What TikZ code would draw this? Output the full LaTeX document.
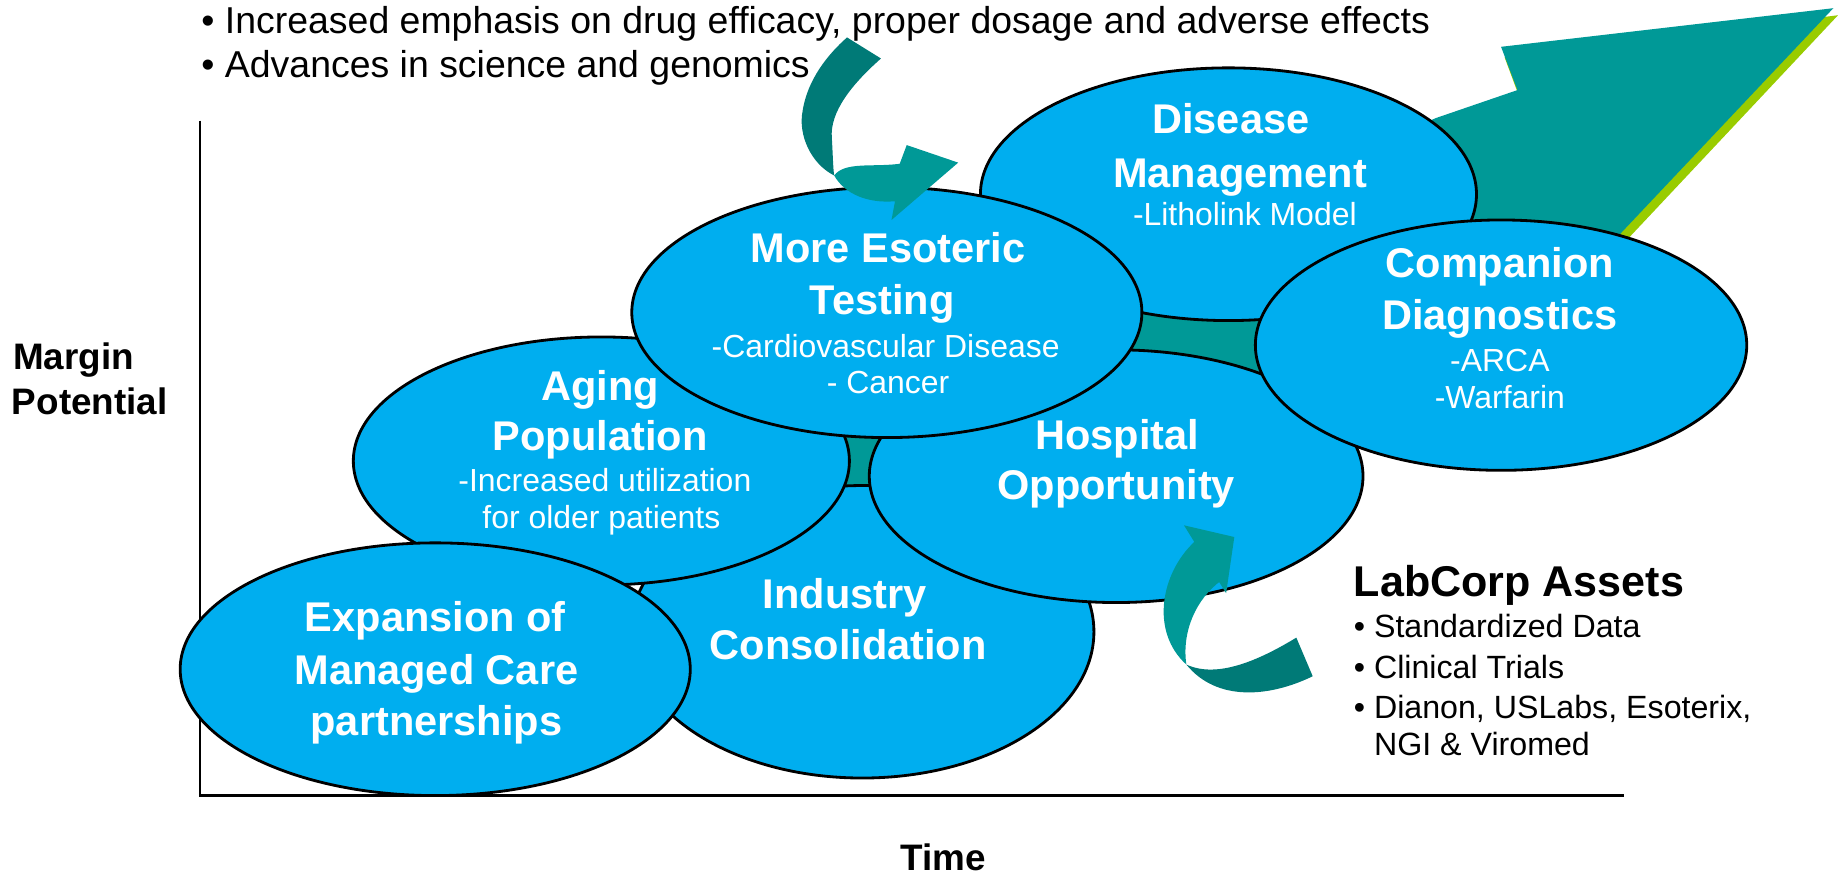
\documentclass[tikz,border=0pt]{standalone}
\usepackage{fontspec}
\setmainfont{Liberation Sans}
\usetikzlibrary{shapes.geometric}
\definecolor{ellblue}{RGB}{0,174,239}
\definecolor{tealmain}{RGB}{0,153,151}
\definecolor{tealdark}{RGB}{0,122,119}
\definecolor{limeg}{RGB}{153,204,0}
\begin{document}
\begin{tikzpicture}[x=1pt,y=-1pt,
  ell/.style={ellipse, draw=black, line width=2.4pt, fill=ellblue, inner sep=0pt},
  ttl/.style={anchor=base, text=white, font=\fontsize{35.5}{41}\selectfont\bfseries, inner sep=0pt},
  subt/.style={anchor=base, text=white, font=\fontsize{27.3}{32}\selectfont, inner sep=0pt},
  toptxt/.style={anchor=base west, font=\fontsize{32}{37}\selectfont, inner sep=0pt},
  axlab/.style={font=\fontsize{31.5}{37}\selectfont\bfseries, inner sep=0pt},
  asset/.style={anchor=base west, font=\fontsize{27.5}{32}\selectfont, inner sep=0pt},
  axisline/.style={line width=2pt, black}
]
\useasboundingbox (0,0) rectangle (1571,748);

% axes
\coordinate (ytop) at (171,103);
\coordinate (orig) at (171,680);
\coordinate (xend) at (1388,680);
\draw[axisline] (ytop) -- (orig) -- (xend);

% big arrow: shadow then body
\fill[limeg] (1286,49) -- (1571,13) -- (1384,212) -- (1153,327) -- (1003,352) -- (738,469) -- (693,447) -- (703,367) -- (903,267) -- (1103,167) -- (1230,110) -- (1299,84) -- cycle;
\fill[tealmain] (1283,40) -- (1567,7) -- (1380,205) -- (1150,320) -- (1000,345) -- (735,462) -- (690,440) -- (700,360) -- (900,260) -- (1100,160) -- (1227,101) -- (1297,77) -- cycle;

% ellipses, back to front
\node[ell, minimum width=396pt, minimum height=250pt] (indus) at (737,540) {};
\node[ell, minimum width=424pt, minimum height=212pt] (aging) at (514,394) {};
\node[ell, minimum width=422pt, minimum height=216pt] (hosp) at (954,407) {};
\node[ell, minimum width=424pt, minimum height=216pt] (dism) at (1050,166) {};
\node[ell, minimum width=436pt, minimum height=214pt] (esot) at (758,267) {};
\node[ell, minimum width=420pt, minimum height=214pt] (comp) at (1283,295) {};
\node[ell, minimum width=436pt, minimum height=216pt] (expa) at (372,572) {};

% ellipse texts
\node[ttl] (dm1) at (1052,114) {Disease};
\node[ttl] (dm2) at (1060,160) {Management};
\node[subt] (dm3) at (1064,192.5) {-Litholink Model};

\node[ttl] (es1) at (759,224) {More Esoteric};
\node[ttl] (es2) at (754,269) {Testing};
\node[subt] (es3) at (757,305.5) {-Cardiovascular Disease};
\node[subt] (es4) at (759,336.5) {- Cancer};

\node[ttl] (cd1) at (1282,237) {Companion};
\node[ttl] (cd2) at (1282,282) {Diagnostics};
\node[subt] (cd3) at (1282,317.5) {-ARCA};
\node[subt] (cd4) at (1282,349.5) {-Warfarin};

\node[ttl] (ag1) at (513,342) {Aging};
\node[ttl] (ag2) at (513,385) {Population};
\node[subt] (ag3) at (517,420.5) {-Increased utilization};
\node[subt] (ag4) at (514,451.5) {for older patients};

\node[ttl] (ho1) at (955,384) {Hospital};
\node[ttl] (ho2) at (954,427) {Opportunity};

\node[ttl] (in1) at (722,520) {Industry};
\node[ttl] (in2) at (725,564) {Consolidation};

\node[ttl] (ex1) at (372,540) {Expansion of};
\node[ttl] (ex2) at (373,585) {Managed Care};
\node[ttl] (ex3) at (373,629) {partnerships};

% top curved arrow
\fill[tealmain] (713,150) .. controls (722,166) and (742,174) .. (765,172) -- (762,188) -- (819,139) -- (775,124) -- (769,140) .. controls (745,143) and (722,138) .. (713,150) -- cycle;
\fill[tealdark] (724,32) -- (753,50) .. controls (728,72) and (709,96) .. (711,118) .. controls (712,135) and (712,143) .. (713,150) .. controls (693,140) and (682,115) .. (686,95) .. controls (690,68) and (708,46) .. (724,32) -- cycle;

% bottom curved arrow
\fill[tealdark] (1014,568) .. controls (1040,580) and (1075,565) .. (1108,545) -- (1122,578) .. controls (1085,596) and (1040,600) .. (1014,568) -- cycle;
\fill[tealmain] (1021,463) .. controls (992,490) and (983,540) .. (1014,568) .. controls (1010,540) and (1022,512) .. (1044,496) -- cycle;
\fill[tealmain] (1012,449) -- (1055,459) -- (1048,507) -- cycle;

% top text
\node[toptxt] (b1) at (172,29) {• Increased emphasis on drug efficacy, proper dosage and adverse effects};
\node[toptxt] (b2) at (172,66) {• Advances in science and genomics};

% axis labels
\node[axlab, anchor=base west] (mg1) at (11,316) {Margin};
\node[axlab, anchor=base west] (mg2) at (10,354) {Potential};
\node[axlab, anchor=base] (tm) at (806,744) {Time};

% LabCorp assets
\node[anchor=base west, font=\fontsize{36.8}{42}\selectfont\bfseries, inner sep=0pt] (lc) at (1157,510) {LabCorp Assets};
\node[asset] (a1) at (1157,544.5) {• Standardized Data};
\node[asset] (a2) at (1157,579.5) {• Clinical Trials};
\node[asset] (a3) at (1157,614.5) {• Dianon, USLabs, Esoterix,};
\node[asset] (a4) at (1157,645.5) {\phantom{• }NGI \& Viromed};
\end{tikzpicture}
\end{document}
